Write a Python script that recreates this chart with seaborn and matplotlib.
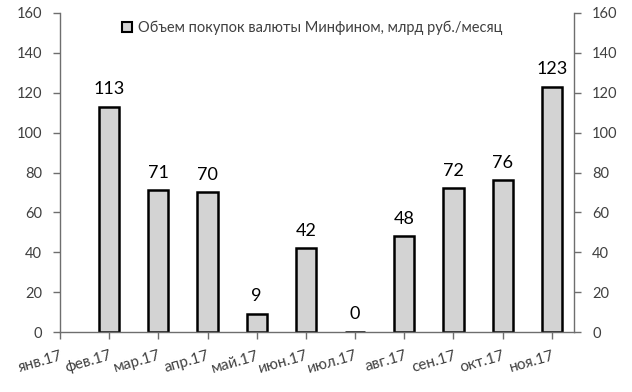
import matplotlib
matplotlib.use("Agg")
import matplotlib.pyplot as plt
import matplotlib.patches as mpatches
import seaborn as sns
import pandas as pd
import numpy as np

months = ["янв.17", "фев.17", "мар.17", "апр.17", "май.17", "июн.17",
          "июл.17", "авг.17", "сен.17", "окт.17", "ноя.17"]
values = [np.nan, 113, 71, 70, 9, 42, 0, 48, 72, 76, 123]
series_name = "Объем покупок валюты Минфином, млрд руб./месяц"
y_ticks = [0, 20, 40, 60, 80, 100, 120, 140, 160]

df = pd.DataFrame({"month": months, "value": values})

sns.set_theme(style="white")
plt.rcParams["font.family"] = ["Lato", "DejaVu Sans"]

fig = plt.figure(figsize=(6.32, 3.92), dpi=100)
ax = fig.add_axes([60 / 632, 1 - 332 / 392, (574 - 60) / 632, (332 - 13) / 392])

sns.barplot(data=df, x="month", y="value", order=months, ax=ax,
            color="#d3d3d3", edgecolor="black", linewidth=1.8,
            width=0.41, saturation=1, errorbar=None)

labels = [f"{int(v)}" for v in values if not np.isnan(v)]
ax.bar_label(ax.containers[0], labels=labels, padding=7, fontsize=13, color="black")

ax.set_xlim(0, 10.45)
ax.set_ylim(0, 160)
ax.set_yticks(y_ticks)
ax.set_xlabel("")
ax.set_ylabel("")

axis_col = "#6e6e6e"
text_col = "#404040"
for side in ["left", "right", "bottom"]:
    ax.spines[side].set_visible(True)
    ax.spines[side].set_color(axis_col)
    ax.spines[side].set_linewidth(1.0)
ax.spines["top"].set_visible(False)

ax.tick_params(axis="y", which="both", left=True, right=True, labelleft=True,
               labelright=True, direction="out", length=5, width=1,
               color=axis_col, labelcolor=text_col, labelsize=10.5, pad=8)
ax.tick_params(axis="x", bottom=True, direction="out", length=5, width=1,
               color=axis_col, labelcolor=text_col, labelsize=11, pad=7)
for lbl in ax.get_xticklabels():
    lbl.set_rotation(16)
    lbl.set_ha("right")
    lbl.set_rotation_mode("anchor")

handle = mpatches.Patch(facecolor="#d3d3d3", edgecolor="black", linewidth=1.5,
                        label=series_name)
ax.legend(handles=[handle], loc="center", bbox_to_anchor=(0.49, 0.953),
          frameon=False, fontsize=10.5, handlelength=0.7, handleheight=0.7,
          handletextpad=0.4, labelcolor=text_col)

fig.savefig("out.png", dpi=100)
